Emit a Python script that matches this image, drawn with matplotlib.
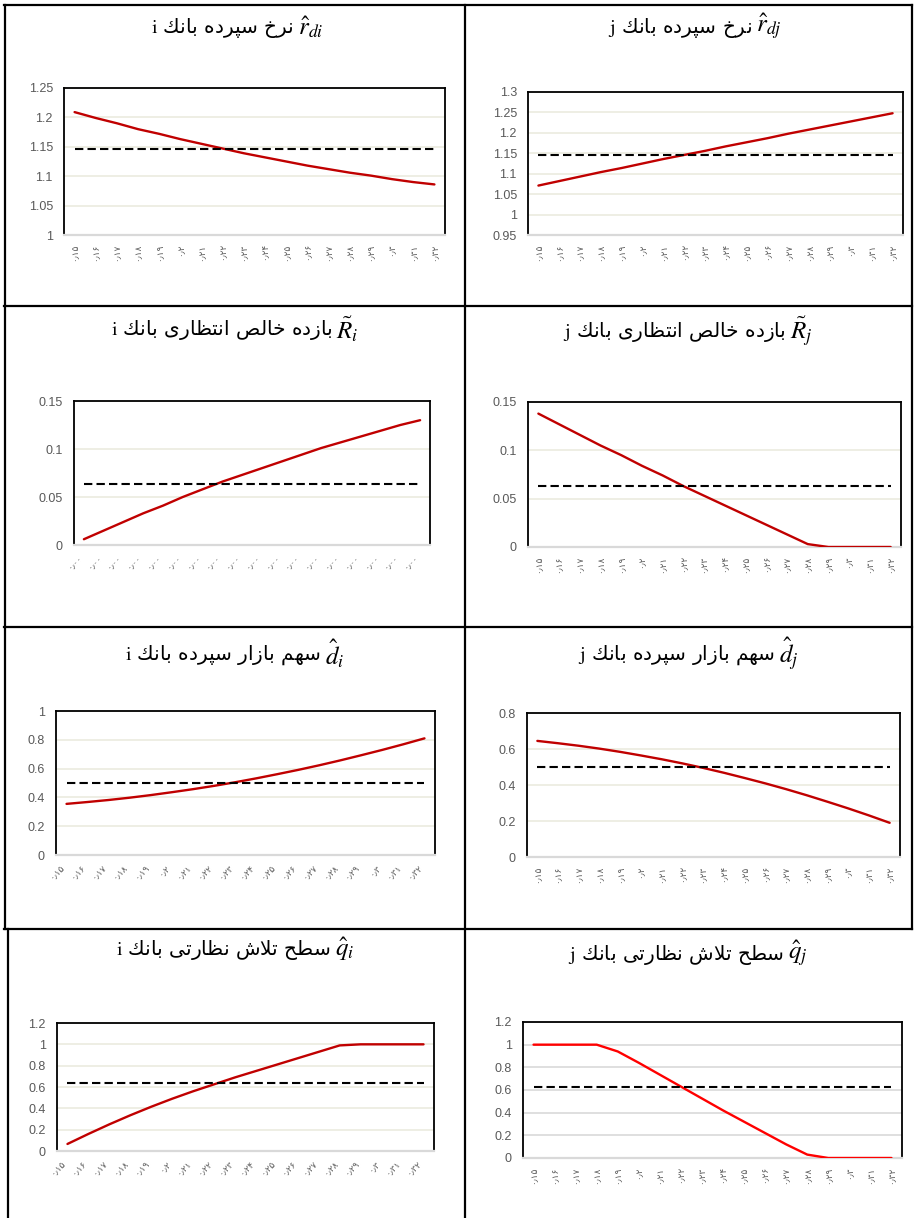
import numpy as np
import matplotlib
matplotlib.use("Agg")
import matplotlib.pyplot as plt
from matplotlib.lines import Line2D

plt.rcParams['mathtext.fontset'] = 'stix'

W, H = 915, 1218

# x categories (0.15 ... 0.32), persian digits
x_labels = ['۰٫۱۵', '۰٫۱۶', '۰٫۱۷', '۰٫۱۸', '۰٫۱۹', '۰٫۲', '۰٫۲۱', '۰٫۲۲', '۰٫۲۳',
            '۰٫۲۴', '۰٫۲۵', '۰٫۲۶', '۰٫۲۷', '۰٫۲۸', '۰٫۲۹', '۰٫۳', '۰٫۳۱', '۰٫۳۲']
x_labels_dots = ['۰٫۰۰'] * 18

# series
rd_i = [1.209, 1.199, 1.190, 1.180, 1.172, 1.163, 1.155, 1.147, 1.139,
        1.132, 1.125, 1.118, 1.112, 1.106, 1.101, 1.095, 1.090, 1.086]
rd_j = [1.071, 1.082, 1.093, 1.104, 1.114, 1.125, 1.136, 1.146, 1.156,
        1.167, 1.177, 1.187, 1.198, 1.208, 1.218, 1.228, 1.238, 1.248]
R_i = [0.006, 0.015, 0.024, 0.033, 0.041, 0.050, 0.058, 0.066, 0.073,
       0.080, 0.087, 0.094, 0.101, 0.107, 0.113, 0.119, 0.125, 0.130]
R_j = [0.138, 0.127, 0.116, 0.105, 0.095, 0.084, 0.074, 0.063, 0.053,
       0.043, 0.033, 0.023, 0.013, 0.003, 0.0, 0.0, 0.0, 0.0]
d_i = [0.355, 0.368, 0.382, 0.398, 0.416, 0.436, 0.457, 0.480, 0.505,
       0.532, 0.561, 0.591, 0.623, 0.657, 0.693, 0.730, 0.769, 0.810]
d_j = [0.645, 0.632, 0.618, 0.602, 0.584, 0.564, 0.543, 0.520, 0.495,
       0.468, 0.439, 0.409, 0.377, 0.343, 0.307, 0.270, 0.231, 0.190]
q_i = [0.066, 0.160, 0.250, 0.335, 0.415, 0.490, 0.560, 0.625, 0.690,
       0.750, 0.810, 0.870, 0.930, 0.990, 1.0, 1.0, 1.0, 1.0]
q_j = [1.0, 1.0, 1.0, 1.0, 0.94, 0.84, 0.735, 0.63, 0.525,
       0.42, 0.32, 0.22, 0.12, 0.03, 0.0, 0.0, 0.0, 0.0]

# averages (dashed)
rd_i_avg, rd_j_avg = 1.1455, 1.146
R_i_avg, R_j_avg = 0.0632, 0.0634
d_i_avg, d_j_avg = 0.5, 0.5
q_i_avg, q_j_avg = 0.635, 0.63

# simple persian shaping (matplotlib has no RTL layout)
FORMS = {
    'ا': ('\ufe8d', '\ufe8e', None, None),
    'ب': ('\ufe8f', '\ufe90', '\ufe91', '\ufe92'),
    'پ': ('\ufb56', '\ufb57', '\ufb58', '\ufb59'),
    'ت': ('\ufe95', '\ufe96', '\ufe97', '\ufe98'),
    'ح': ('\ufea1', '\ufea2', '\ufea3', '\ufea4'),
    'خ': ('\ufea5', '\ufea6', '\ufea7', '\ufea8'),
    'د': ('\ufea9', '\ufeaa', None, None),
    'ر': ('\ufead', '\ufeae', None, None),
    'ز': ('\ufeaf', '\ufeb0', None, None),
    'س': ('\ufeb1', '\ufeb2', '\ufeb3', '\ufeb4'),
    'ش': ('\ufeb5', '\ufeb6', '\ufeb7', '\ufeb8'),
    'ص': ('\ufeb9', '\ufeba', '\ufebb', '\ufebc'),
    'ط': ('\ufec1', '\ufec2', '\ufec3', '\ufec4'),
    'ظ': ('\ufec5', '\ufec6', '\ufec7', '\ufec8'),
    'ک': ('\ufed9', '\ufeda', '\ufedb', '\ufedc'),
    'ل': ('\ufedd', '\ufede', '\ufedf', '\ufee0'),
    'م': ('\ufee1', '\ufee2', '\ufee3', '\ufee4'),
    'ن': ('\ufee5', '\ufee6', '\ufee7', '\ufee8'),
    'ه': ('\ufee9', '\ufeea', '\ufeeb', '\ufeec'),
    'ی': ('\ufeef', '\ufef0', '\ufef3', '\ufef4'),
    '\ufefb': ('\ufefb', '\ufefc', None, None),
}


def shape(text):
    text = text.replace('لا', '\ufefb')
    out = []
    for i, ch in enumerate(text):
        f = FORMS.get(ch)
        if f is None:
            out.append(ch)
            continue
        prev = text[i - 1] if i > 0 else ''
        nxt = text[i + 1] if i + 1 < len(text) else ''
        jp = prev in FORMS and FORMS[prev][2] is not None
        jn = f[2] is not None and nxt in FORMS
        if jp and jn:
            out.append(f[3])
        elif jp:
            out.append(f[1])
        elif jn:
            out.append(f[2])
        else:
            out.append(f[0])
    return ''.join(reversed(out))


def title(cx, cy, fa, bank, sym):
    # persian part + bank letter, then the math symbol a bit larger
    rend = fig.canvas.get_renderer()
    t1 = fig.text(0, 1 - cy / H, r'$\mathrm{%s}$ ' % bank + shape(fa),
                  ha='left', va='center', fontsize=14.5, family='DejaVu Sans')
    t2 = fig.text(0, 1 - (cy - 1) / H, '$%s$' % sym, ha='left', va='center', fontsize=18)
    w1 = t1.get_window_extent(rend).width
    w2 = t2.get_window_extent(rend).width
    gap = 4
    x0 = cx - (w1 + gap + w2) / 2
    t1.set_x(x0 / W)
    t2.set_x((x0 + w1 + gap) / W)


def chart(box, y, avg, yticks, xl, rot, red='#C00000', grid='#EBEBDF'):
    l, t, r, b = box
    ax = fig.add_axes([l / W, 1 - b / H, (r - l) / W, (b - t) / H])
    x = np.arange(len(y))
    ax.plot(x, y, color=red, lw=1.7, solid_capstyle='round', zorder=3)
    ax.plot(x, np.full(len(y), avg), color='black', lw=1.5, dashes=(4, 2), zorder=3)
    ax.set_xlim(-0.5, len(y) - 0.5)
    ax.set_ylim(yticks[0], yticks[-1])
    ax.set_yticks(yticks)
    ax.set_yticklabels([f'{v:g}' for v in yticks], fontsize=9, color='#595959',
                       family='Liberation Sans')
    ax.set_xticks(x)
    if rot == 90:
        ax.set_xticklabels(xl, rotation=90, fontsize=6.5, color='#595959',
                           family='DejaVu Sans')
    else:
        ax.set_xticklabels(xl, rotation=45, ha='right', fontsize=6.5,
                           color='#595959', family='DejaVu Sans')
    ax.tick_params(length=0)
    ax.tick_params(axis='y', pad=8)
    ax.tick_params(axis='x', pad=6)
    ax.grid(axis='y', color=grid, lw=1.2)
    ax.set_axisbelow(True)
    for s in ('left', 'right', 'top'):
        ax.spines[s].set_color('black')
        ax.spines[s].set_linewidth(1.3)
    ax.spines['bottom'].set_color('#D9D9D9')
    ax.spines['bottom'].set_linewidth(1.6)
    return ax


fig = plt.figure(figsize=(W / 100, H / 100), dpi=100)

# table frame
def hline(y, x0, x1):
    fig.add_artist(Line2D([x0 / W, x1 / W], [1 - y / H, 1 - y / H], color='black', lw=1.6))

def vline(x, y0, y1):
    fig.add_artist(Line2D([x / W, x / W], [1 - y0 / H, 1 - y1 / H], color='black', lw=1.6))

for yy in (5, 306, 627, 929):
    hline(yy, 4, 912)
vline(5, 5, 929)
vline(8, 929, 1218)
vline(912, 5, 929)
vline(465, 5, 1218)

title(237, 28, 'نرخ سپرده بانک', 'i', r'\hat{r}_{di}')
title(695, 28, 'نرخ سپرده بانک', 'j', r'\hat{r}_{dj}')
title(235, 330, 'بازده خالص انتظاری بانک', 'i', r'\tilde{R}_{i}')
title(688, 332, 'بازده خالص انتظاری بانک', 'j', r'\tilde{R}_{j}')
title(235, 655, 'سهم بازار سپرده بانک', 'i', r'\hat{d}_{i}')
title(688, 655, 'سهم بازار سپرده بانک', 'j', r'\hat{d}_{j}')
title(235, 950, 'سطح تلاش نظارتی بانک', 'i', r'\hat{q}_{i}')
title(688, 955, 'سطح تلاش نظارتی بانک', 'j', r'\hat{q}_{j}')

chart((64, 88, 445, 235), rd_i, rd_i_avg, [1, 1.05, 1.1, 1.15, 1.2, 1.25], x_labels, 90)
chart((528, 92, 903, 235), rd_j, rd_j_avg, [0.95, 1, 1.05, 1.1, 1.15, 1.2, 1.25, 1.3], x_labels, 90)
chart((74, 401, 430, 545), R_i, R_i_avg, [0, 0.05, 0.1, 0.15], x_labels_dots, 45)
chart((528, 402, 901, 547), R_j, R_j_avg, [0, 0.05, 0.1, 0.15], x_labels, 90)
chart((56, 711, 435, 855), d_i, d_i_avg, [0, 0.2, 0.4, 0.6, 0.8, 1], x_labels, 45)
chart((527, 713, 900, 857), d_j, d_j_avg, [0, 0.2, 0.4, 0.6, 0.8], x_labels, 90)
chart((57, 1023, 434, 1151), q_i, q_i_avg, [0, 0.2, 0.4, 0.6, 0.8, 1, 1.2], x_labels, 45)
chart((523, 1022, 902, 1158), q_j, q_j_avg, [0, 0.2, 0.4, 0.6, 0.8, 1, 1.2], x_labels, 90,
      red='#FF0000', grid='#D9D9D9')

fig.savefig('out.png', dpi=100)
